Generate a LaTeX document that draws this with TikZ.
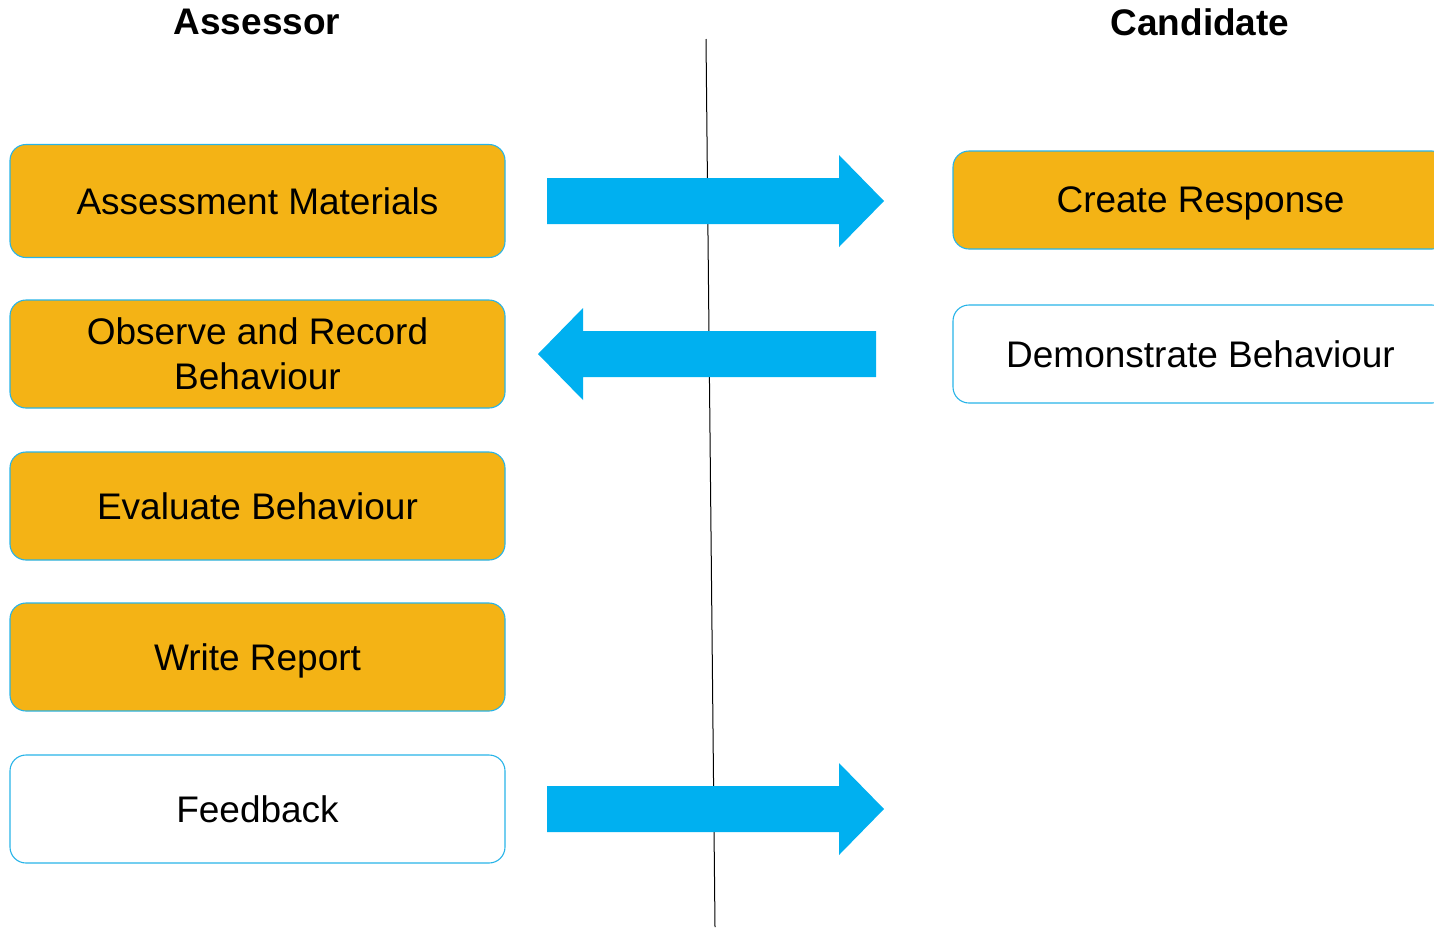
\documentclass[tikz,border=0pt]{standalone}
\usepackage{fontspec}
\setmainfont{Liberation Sans}
\usetikzlibrary{calc}
\definecolor{boxorange}{RGB}{244,179,21}
\definecolor{boxedge}{RGB}{40,180,232}
\definecolor{flowblue}{RGB}{0,176,240}

% block arrow pointing right, from start coordinate #1 to the tip's x at #2
\newcommand\flowright[2]{%
  \fill[flow] ($(#1)+(0,-23)$) -- ($(#1 -| #2)+(-45,-23)$) -- ($(#1 -| #2)+(-45,-46)$)
    -- (#1 -| #2) -- ($(#1 -| #2)+(-45,46)$) -- ($(#1 -| #2)+(-45,23)$) -- ($(#1)+(0,23)$) -- cycle;}
% block arrow pointing left
\newcommand\flowleft[2]{%
  \fill[flow] ($(#1)+(0,-23)$) -- ($(#1 -| #2)+(45,-23)$) -- ($(#1 -| #2)+(45,-46)$)
    -- (#1 -| #2) -- ($(#1 -| #2)+(45,46)$) -- ($(#1 -| #2)+(45,23)$) -- ($(#1)+(0,23)$) -- cycle;}

\begin{document}
\begin{tikzpicture}[x=1pt,y=-1pt,
  stage/.style={draw=boxedge, line width=1.1pt, rounded corners=16pt,
    minimum width=495pt, minimum height=108pt, inner sep=0pt, outer sep=0pt,
    align=center, text=black, font=\fontsize{37}{45}\selectfont},
  active/.style={stage, fill=boxorange},
  passive/.style={stage, fill=white},
  oneline/.style={text depth=0pt},
  lanehead/.style={text=black, font=\fontsize{37}{45}\selectfont\bfseries},
  flow/.style={fill=flowblue},
  divider/.style={draw=black, line width=1pt}]

\useasboundingbox (0,0) rectangle (1434,927);
\clip (0,0) rectangle (1434,927);

% lane headings
\node[lanehead] (hassessor) at (257,22) {Assessor};
\node[lanehead] (hcandidate) at (1200,22) {Candidate};

% divider between the two lanes
\coordinate (dtop) at (706,39);
\coordinate (dbot) at (715,927);
\draw[divider] (dtop) -- (dbot);

% assessor steps
\node[active, minimum height=113pt] (am) at (257.5,201) {Assessment Materials};
\node[active] (orb) at (257.5,354) {Observe and Record\\Behaviour};
\node[active] (eb) at (257.5,506) {Evaluate Behaviour};
\node[active, oneline] (wr) at (257.5,657) {Write Report};
\node[passive] (fb) at (257.5,809) {Feedback};

% candidate steps
\node[active, oneline, minimum height=98pt] (cr) at (1200.5,200) {Create Response};
\node[passive, minimum height=98pt] (db) at (1200.5,354) {Demonstrate Behaviour};

% hand-overs between the lanes
\coordinate (s1) at ([xshift=42pt]am.east);
\coordinate (t1) at ([xshift=-69pt]cr.west);
\flowright{s1}{t1}

\coordinate (s2) at ([xshift=-77pt]db.west);
\coordinate (t2) at ([xshift=33pt]orb.east);
\flowleft{s2}{t2}

\coordinate (s3) at ([xshift=42pt]fb.east);
\coordinate (t3) at (884,809);
\flowright{s3}{t3}
\end{tikzpicture}
\end{document}
